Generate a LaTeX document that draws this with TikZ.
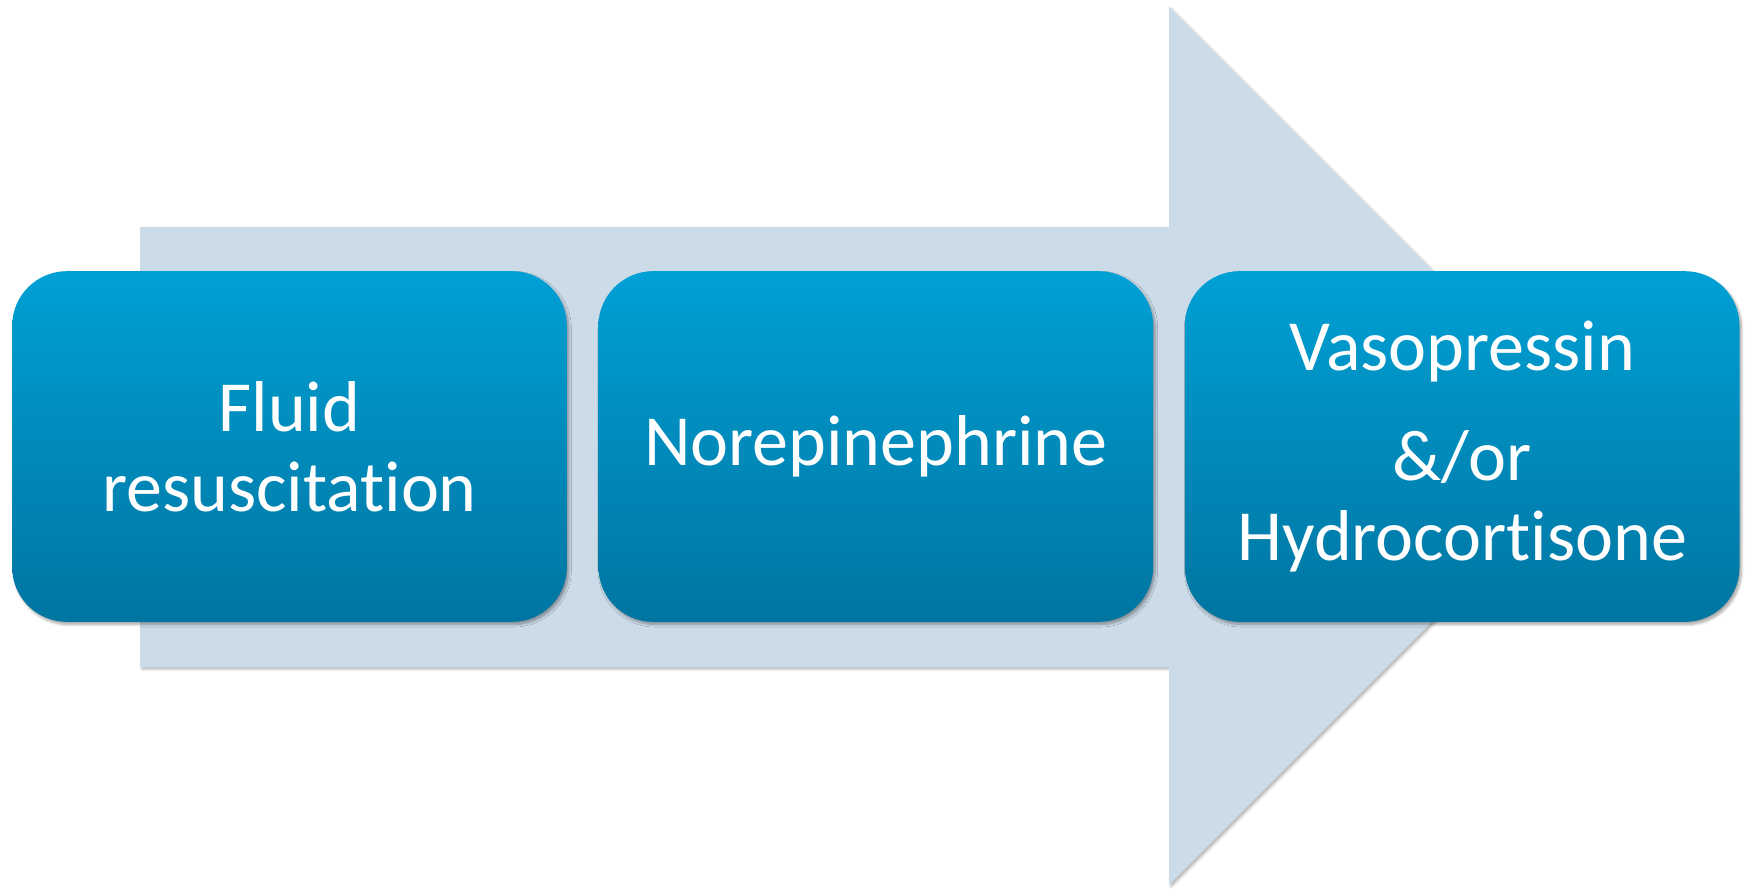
\documentclass[tikz,border=0pt]{standalone}
\usepackage{fontspec}
\setmainfont{Carlito}[Ligatures={NoCommon,NoRequired}]
\usetikzlibrary{positioning,shadows.blur}

\definecolor{arrowfill}{RGB}{203,219,232}
\definecolor{boxtop}{RGB}{0,160,213}
\definecolor{boxbottom}{RGB}{0,117,161}

\tikzset{every picture/.style={line width=0.75pt}}
\tikzset{
  stagebox/.style={rounded corners=41pt, minimum width=416pt, minimum height=263pt,
    top color=boxtop, bottom color=boxbottom, text=white, align=center,
    font=\fontsize{54}{60}\selectfont,
    blur shadow={shadow xshift=1.5pt, shadow yshift=-2pt, shadow opacity=35, shadow blur steps=6}},
}

\begin{document}
\begin{tikzpicture}[x=0.75pt,y=0.75pt,yscale=-1,xscale=1]
    \useasboundingbox (0,0) rectangle (1747,890);

    %Shape: Right Arrow [id:arrow]
    \fill [arrowfill, blur shadow={shadow xshift=1.5pt, shadow yshift=-1.5pt, shadow opacity=30, shadow blur steps=4}]
      (140,227) -- (1169,227) -- (1169,7) -- (1608,446) -- (1169,885) -- (1169,667) -- (140,667) -- cycle ;

    %Shape: Rounded Rectangles
    \node [stagebox] (fluid) at (289.5,446.5) {Fluid\\resuscitation};
    \node [stagebox, right=23pt of fluid] (norepi) {Norepinephrine};
    \node [stagebox, right=23pt of norepi] (vaso) {Vasopressin\\[22pt]\&/or\\Hydrocortisone};
\end{tikzpicture}
\end{document}
